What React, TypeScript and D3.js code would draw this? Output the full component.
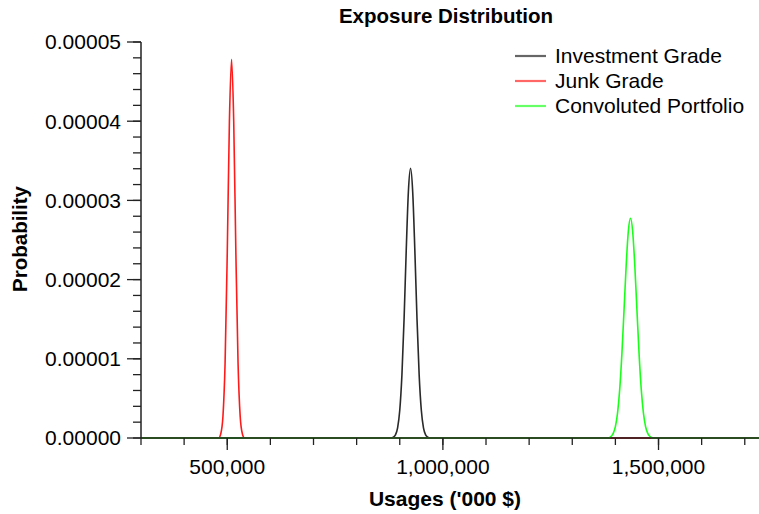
import React from "react";
import * as d3 from "d3";

// ---- data ----
const seriesNames = ["Investment Grade", "Junk Grade", "Convoluted Portfolio"];
const seriesColors = ["#2a2a2a", "#ff1a1a", "#1aff1a"];
const legendColors = ["#666666", "#ff6666", "#66ff66"];

const investX = [300000, 880000, 885000, 890000, 895000, 900000, 905000, 910000, 915000, 920000, 925000, 930000, 935000, 940000, 945000, 950000, 955000, 960000, 965000, 970000, 1733000];
const investY = [0, 0, 1.0e-7, 3.9e-7, 1.29e-6, 3.5e-6, 7.94e-6, 1.501e-5, 2.366e-5, 3.109e-5, 3.405e-5, 3.109e-5, 2.366e-5, 1.501e-5, 7.94e-6, 3.5e-6, 1.29e-6, 3.9e-7, 1.0e-7, 0, 0];

const junkX = [300000, 480000, 485000, 490000, 495000, 500000, 505000, 510000, 515000, 520000, 525000, 530000, 535000, 540000, 1733000];
const junkY = [0, 0, 5.4e-7, 2.71e-6, 9.52e-6, 2.333e-5, 3.996e-5, 4.78e-5, 3.996e-5, 2.333e-5, 9.52e-6, 2.71e-6, 5.4e-7, 0, 0];

const convX = [300000, 1385000, 1390000, 1395000, 1400000, 1405000, 1410000, 1415000, 1420000, 1425000, 1430000, 1435000, 1440000, 1445000, 1450000, 1455000, 1460000, 1465000, 1470000, 1475000, 1480000, 1485000, 1733000];
const convY = [0, 0, 2.1e-7, 5.8e-7, 1.44e-6, 3.16e-6, 6.13e-6, 1.056e-5, 1.611e-5, 2.179e-5, 2.611e-5, 2.774e-5, 2.611e-5, 2.179e-5, 1.611e-5, 1.056e-5, 6.13e-6, 3.16e-6, 1.44e-6, 5.8e-7, 2.1e-7, 0, 0];

const xDomain = [300000, 1733000];
const yDomain = [0, 0.00005];
const xLabelTicks = [500000, 1000000, 1500000];
const yLabelTicks = [0, 0.00001, 0.00002, 0.00003, 0.00004, 0.00005];

const titleText = "Exposure Distribution";
const xAxisTitle = "Usages ('000 $)";
const yAxisTitle = "Probability";

const W = 759;
const H = 514;
const m = { left: 141, right: 0, top: 42, bottom: 76 };

export default function App() {
  const x = d3.scaleLinear().domain(xDomain).range([m.left, W - m.right]);
  const y = d3.scaleLinear().domain(yDomain).range([H - m.bottom, m.top]);
  const x0 = m.left;
  const y0 = H - m.bottom;

  const xMinor = d3.range(300000, xDomain[1] + 1, 100000);
  const yMinor = d3.range(0, 0.0000501, 0.000002);

  const line = d3
    .line<[number, number]>()
    .x((d) => x(d[0]))
    .y((d) => y(d[1]))
    .curve(d3.curveMonotoneX);

  const series = [
    { xs: investX, ys: investY },
    { xs: junkX, ys: junkY },
    { xs: convX, ys: convY },
  ];

  const font = "'Liberation Sans', Arial, Helvetica, sans-serif";
  const fmtX = d3.format(",");
  const fmtY = (v: number) => v.toFixed(5);

  return (
    <svg
      width={W}
      height={H}
      style={{ position: "absolute", left: 0, top: 0, background: "#fff" }}
      fontFamily={font}
    >
      <text x={446} y={23} textAnchor="middle" fontSize={20.5} fontWeight="bold" fill="#000">
        {titleText}
      </text>

      {/* lines */}
      {series.map((s, i) => (
        <path
          key={i}
          d={line(s.xs.map((v, j) => [v, s.ys[j]] as [number, number])) || ""}
          fill="none"
          stroke={seriesColors[i]}
          strokeWidth={1.6}
          strokeLinejoin="round"
        />
      ))}

      {/* y axis */}
      <line x1={x0} x2={x0} y1={m.top} y2={y0} stroke="#222" strokeWidth={1.5} />
      {yMinor.map((v, i) => (
        <line key={"ym" + i} x1={x0 - 8} x2={x0} y1={y(v)} y2={y(v)} stroke="#222" strokeWidth={1.3} />
      ))}
      {yLabelTicks.map((v, i) => (
        <g key={"yt" + i}>
          <line x1={x0 - 14} x2={x0} y1={y(v)} y2={y(v)} stroke="#222" strokeWidth={1.3} />
          <text x={x0 - 20} y={y(v)} dy="0.35em" textAnchor="end" fontSize={21} fill="#000">
            {fmtY(v)}
          </text>
        </g>
      ))}

      {/* x axis */}
      <line x1={x0} x2={W} y1={y0} y2={y0} stroke="#222" strokeWidth={1.5} />
      {xMinor.map((v, i) => (
        <line key={"xm" + i} x1={x(v)} x2={x(v)} y1={y0} y2={y0 + 7} stroke="#222" strokeWidth={1.3} />
      ))}
      {xLabelTicks.map((v, i) => (
        <g key={"xt" + i}>
          <line x1={x(v)} x2={x(v)} y1={y0} y2={y0 + 12} stroke="#222" strokeWidth={1.3} />
          <text x={x(v)} y={y0 + 36} textAnchor="middle" fontSize={21} fill="#000">
            {fmtX(v)}
          </text>
        </g>
      ))}

      <text x={445} y={506} textAnchor="middle" fontSize={21} fontWeight="bold" fill="#000">
        {xAxisTitle}
      </text>
      <text
        transform={`translate(27,${(m.top + y0) / 2 - 1}) rotate(-90)`}
        textAnchor="middle"
        fontSize={20.5}
        fontWeight="bold"
        fill="#000"
      >
        {yAxisTitle}
      </text>

      {/* legend */}
      {seriesNames.map((n, i) => (
        <g key={"lg" + i} transform={`translate(515,${56 + i * 25})`}>
          <line x1={0} x2={31} y1={0} y2={0} stroke={legendColors[i]} strokeWidth={2.2} />
          <text x={40} y={0} dy="0.35em" fontSize={21} fill="#000">
            {n}
          </text>
        </g>
      ))}
    </svg>
  );
}
